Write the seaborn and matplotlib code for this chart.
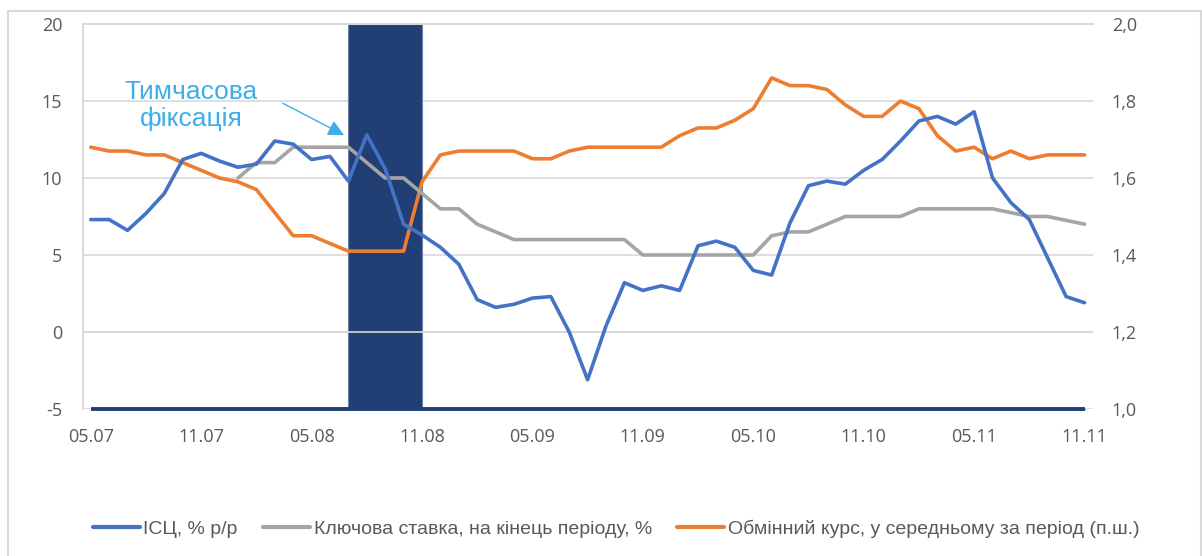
import numpy as np
import pandas as pd
import matplotlib
import matplotlib.pyplot as plt
import seaborn as sns
from matplotlib.patches import Rectangle

matplotlib.use('Agg')

# місяці 05.07 ... 11.11
months = list(range(55))
x_labels = ["05.07", "11.07", "05.08", "11.08", "05.09", "11.09", "05.10", "11.10", "05.11", "11.11"]
x_label_pos = [0, 6, 12, 18, 24, 30, 36, 42, 48, 54]

# ІСЦ, % р/р (ліва вісь)
cpi = [7.3, 7.3, 6.6, 7.7, 9.0, 11.2, 11.6, 11.1, 10.7, 10.9,
       12.4, 12.2, 11.2, 11.4, 9.8, 12.8, 10.6, 7.0, 6.3, 5.5,
       4.4, 2.1, 1.6, 1.8, 2.2, 2.3, 0.0, -3.1, 0.4, 3.2,
       2.7, 3.0, 2.7, 5.6, 5.9, 5.5, 4.0, 3.7, 7.1, 9.5,
       9.8, 9.6, 10.5, 11.2, 12.4, 13.7, 14.0, 13.5, 14.3, 10.0,
       8.4, 7.3, 4.8, 2.3, 1.9]

# Ключова ставка, на кінець періоду, %
rate = [np.nan] * 8 + [
       10.0, 11.0, 11.0, 12.0, 12.0, 12.0, 12.0, 11.0, 10.0, 10.0,
       9.0, 8.0, 8.0, 7.0, 6.5, 6.0, 6.0, 6.0, 6.0, 6.0,
       6.0, 6.0, 5.0, 5.0, 5.0, 5.0, 5.0, 5.0, 5.0, 6.25,
       6.5, 6.5, 7.0, 7.5, 7.5, 7.5, 7.5, 8.0, 8.0, 8.0,
       8.0, 8.0, 7.75, 7.5, 7.5, 7.25, 7.0]

# Обмінний курс, у середньому за період (права вісь)
fx = [1.68, 1.67, 1.67, 1.66, 1.66, 1.64, 1.62, 1.60, 1.59, 1.57,
      1.51, 1.45, 1.45, 1.43, 1.41, 1.41, 1.41, 1.41, 1.59, 1.66,
      1.67, 1.67, 1.67, 1.67, 1.65, 1.65, 1.67, 1.68, 1.68, 1.68,
      1.68, 1.68, 1.71, 1.73, 1.73, 1.75, 1.78, 1.86, 1.84, 1.84,
      1.83, 1.79, 1.76, 1.76, 1.80, 1.78, 1.71, 1.67, 1.68, 1.65,
      1.67, 1.65, 1.66, 1.66, 1.66]

# Тимчасова фіксація (07.08 - 10.08)
fixation = [0] * 14 + [1, 1, 1, 1] + [0] * 37

left_ticks = [-5, 0, 5, 10, 15, 20]
right_ticks = [1.0, 1.2, 1.4, 1.6, 1.8, 2.0]
right_tick_labels = ["1,0", "1,2", "1,4", "1,6", "1,8", "2,0"]

names = ["ІСЦ, % р/р", "Ключова ставка, на кінець періоду, %",
         "Обмінний курс, у середньому за період (п.ш.)"]

df = pd.DataFrame({"month": months, "cpi": cpi, "rate": rate, "fx": fx, "fix": fixation})
# ряд фіксації на правій осі: мінімум осі (1,0) або максимум (2,0)
df["fix_level"] = 1.0 + df["fix"]
df["fix_base"] = df["fix_level"].min()

sns.set_theme(style="white")
plt.rcParams['font.family'] = ['Open Sans', 'DejaVu Sans']

blue = "#4472C4"
grey = "#A5A5A5"
orange = "#ED7D31"
navy = "#223F75"
gridc = "#D9D9D9"
textc = "#595959"

fig = plt.figure(figsize=(12.02, 5.56), dpi=100)
ax = fig.add_axes([83 / 1202, 1 - 409 / 556, (1093 - 83) / 1202, (409 - 24) / 556])
ax2 = ax.twinx()

# порядок шарів: ax (ІСЦ, ставка) над ax2 (фіксація, курс)
ax.set_zorder(ax2.get_zorder() + 1)
ax.patch.set_visible(False)

ax2.fill_between(df["month"], df["fix_base"], df["fix_level"], step="post",
                 facecolor=navy, edgecolor="#6E82A8", lw=0.8, zorder=1)
ax2.plot(df["month"], df["fix_base"], color=navy, lw=2.8, zorder=1.5,
         clip_on=False, solid_capstyle="butt")
sns.lineplot(data=df, x="month", y="fx", ax=ax2, color=orange, lw=2.6, label=names[2], zorder=3)

ax.axhline(0, color=gridc, lw=1.2, zorder=0.5)
sns.lineplot(data=df, x="month", y="cpi", ax=ax, color=blue, lw=2.6, label=names[0], zorder=3)
sns.lineplot(data=df, x="month", y="rate", ax=ax, color=grey, lw=2.6, label=names[1], zorder=2)

ax.set_xlim(-0.42, 54.46)
ax.set_ylim(-5, 20)
ax2.set_ylim(1.0, 2.0)

ax.set_xticks(x_label_pos)
ax.set_xticklabels(x_labels)
ax.set_xticks(np.array(x_label_pos) - 0.42, minor=True)
ax.set_yticks(left_ticks)
ax.set_yticklabels([str(t) for t in left_ticks])
ax2.set_yticks(right_ticks)
ax2.set_yticklabels(right_tick_labels)

ax.grid(False)
ax2.set_axisbelow(True)
ax2.grid(True, axis="y", color=gridc, lw=1.2)
ax2.grid(True, axis="x", which="minor", color="#EBEBEB", lw=1.0)
ax2.grid(False, axis="x", which="major")

ax.set_xlabel("")
ax.set_ylabel("")
ax2.set_ylabel("")
ax.tick_params(axis="both", which="both", length=0, labelsize=13, labelcolor=textc)
ax.tick_params(axis="y", pad=15)
ax.tick_params(axis="x", pad=14)
ax2.tick_params(axis="y", length=0, labelsize=13, labelcolor=textc, pad=13.5)

for a in (ax, ax2):
    for side in ("left", "top"):
        a.spines[side].set_color(gridc)
        a.spines[side].set_linewidth(1.2)
    a.spines["right"].set_visible(False)
    a.spines["bottom"].set_visible(False)

# підпис та стрілка
ann_color = "#3DAEE9"
ax.text(5.45, 14.7, "Тимчасова\nфіксація", color=ann_color, fontsize=19,
        ha="center", va="center", linespacing=1.1,
        family=['Liberation Sans', 'DejaVu Sans'])
ax.annotate("", xy=(13.9, 12.7), xytext=(10.3, 14.94),
            arrowprops=dict(arrowstyle="-|>", color=ann_color, lw=1.0, mutation_scale=24))

# легенда
h1, l1 = ax.get_legend_handles_labels()
h2, l2 = ax2.get_legend_handles_labels()
ax.get_legend().remove()
ax2.get_legend().remove()
leg = fig.legend(h1 + h2, l1 + l2, loc="center", bbox_to_anchor=(0.5125, 1 - 529 / 556),
                 ncol=3, frameon=False, handlelength=2.42,
                 handletextpad=0.18, columnspacing=1.3,
                 prop={'family': ['Liberation Sans', 'DejaVu Sans'], 'size': 14})
for t in leg.get_texts():
    t.set_color(textc)
for h in leg.legend_handles:
    h.set_linewidth(3)

# рамка діаграми
fig.add_artist(Rectangle((8 / 1202, -0.05), (1200.5 - 8) / 1202, 1.05 - 11 / 556,
                         transform=fig.transFigure, fill=False, edgecolor=gridc, lw=1.5))

fig.savefig("out.png", dpi=100)
plt.close(fig)
